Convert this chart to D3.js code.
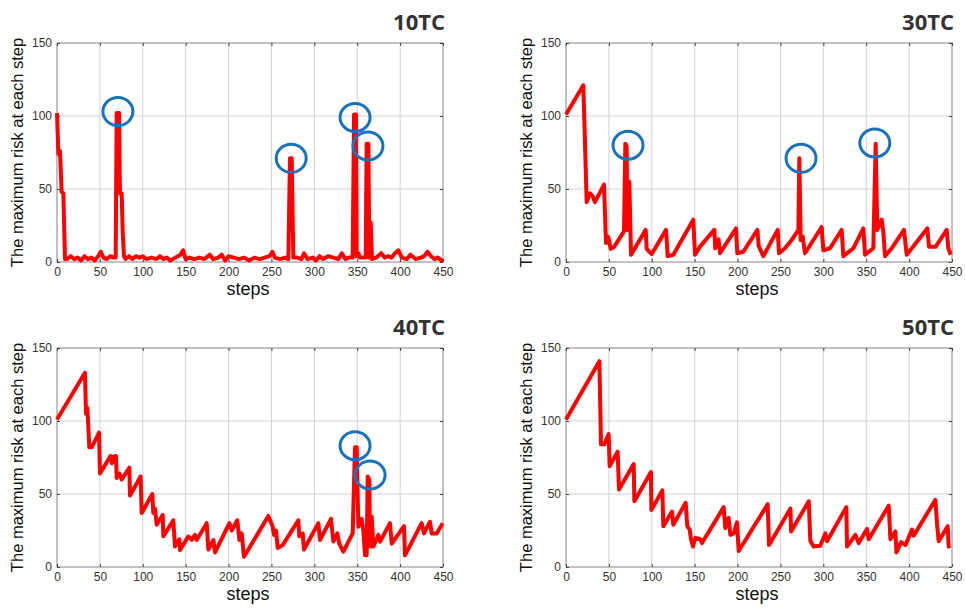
<!DOCTYPE html>
<html>
<head>
<meta charset="utf-8">
<script src="https://cdnjs.cloudflare.com/ajax/libs/d3/7.8.5/d3.min.js"></script>
<style>
  body { margin: 0; background: #fff; }
  .tick text { font-family: "Liberation Sans", Arial, sans-serif; font-size: 12px; fill: #333; }
  .tick line { stroke: #444; }
</style>
</head>
<body>
<div class="canvas"></div>
<script>
// tick labels
var xTicks = [0, 50, 100, 150, 200, 250, 300, 350, 400, 450];
var yTicks = [0, 50, 100, 150];
var titles = ["10TC", "30TC", "40TC", "50TC"];

// [step, max risk] vertices
var tc10 = [[0,102],[1.6,74],[3.5,76],[5.4,48],[7.4,47],[9.3,2],[12,2],[16,4],[20,2],[24,3],[28,1],[32,4],[36,2],[40,3],[44,1],
  [48,4],[51,7],[54,3],[58,2],[62,4],[66,3],[68.4,3],[69.6,102],[72.3,102],[73.4,47],[75.4,47],[76.6,20],[78.1,4],
  [80,2],[84,4],[88,2],[92,4],[96,3],[100,4],[104,2],[110,3],[116,2],[120,4],[124,2],[128,3],[132,1],[138,3],[144,5],
  [147,8],[150,2],[155,3],[160,2],[166,3],[172,2],[178,5],[182,2],[188,3],[192,5],[196,1],[200,4],[206,3],[212,2],
  [218,3],[224,1],[230,3],[236,2],[242,3],[248,4],[251,7],[254,3],[260,2],[266,3],[269.7,2],[271.6,71],[273.6,71],
  [275.5,3],[280,3],[285,2],[288,6],[292,2],[298,3],[302,1],[306,4],[310,2],[316,4],[322,3],[328,2],[332,6],[336,2],
  [340,3],[344.7,3],[346.3,101],[348.6,101],[349.4,4],[351.3,6],[353.2,3],[359.9,3],[361,81],[363,81],[364.1,3],
  [365.7,27],[367.2,2],[372,3],[378,6],[382,3],[386,4],[390,3],[394,6],[398,8],[402,3],[408,2],[412,5],[418,2],
  [424,3],[428,4],[432,7],[436,4],[440,2],[444,3],[448,1],[450,2]];

var tc30 = [[0,101],[20.2,121],[24.1,41],[28,47],[31.1,45],[33.8,41],[44.3,53],[46.6,13],[49.3,17],[52.1,9],[56.3,10.5],
  [67.6,21],[69.2,81],[70.7,79],[71.5,22],[73.8,55],[75.8,5],[92.9,22],[94,9],[99.9,5.5],[116.6,22],[118.5,4],
  [125.1,5],[148.4,29],[150.4,5],[156.2,10.5],[172.9,22],[174,9.4],[177.9,15.5],[179.5,6],[198.2,23],[199.7,6],
  [206.7,7],[223.1,22],[224.6,11],[230,4],[246.8,22],[248.3,6],[255.3,9.4],[263.1,15],[270.9,22],[272,71],
  [273.6,15],[275.9,17.4],[278.6,6],[298,24],[300,8],[307.8,9.4],[321.4,22],[323.3,4],[335,9.4],[346.6,23],
  [348.6,5],[358.3,9.4],[361,81],[362.9,22],[368,29],[369.9,21],[371.9,4],[379.7,9.4],[394,22],[397.2,5],
  [421.2,23],[423.2,10.5],[431,10.5],[443.8,22],[445.7,9.4],[448.5,5]];

var tc40 = [[0,101],[32.6,133],[33.8,105],[35.4,109],[37.7,82],[40.4,82],[49,92],[50.1,64],[62.3,76],[64.1,71],
  [65.7,75.6],[68.8,76],[69.6,61],[72.7,64],[75.4,60],[84.3,68],[85.1,49],[97.5,62],[98.7,37],[111.1,50],[112.3,37],
  [114.2,40],[116.2,29],[123.2,35.6],[124,21],[135.6,32],[137.6,14],[142.6,19],[143.4,11.6],[153.1,21],[157,18.5],
  [160.9,22],[162.8,18.5],[174.5,30],[176.4,12],[182.3,18.5],[184.2,10],[201,30],[203.6,25],[210.2,32],[212.6,18.5],
  [215.3,23],[218,7],[246.4,35],[249.1,31],[251.4,27.6],[253,22],[255.3,25],[257.3,13],[263.1,15],[281.3,32],
  [282.5,21],[286.4,23],[287.9,12],[304.7,30],[306.6,18.5],[319.4,33],[322.2,17.4],[326.8,23],[329.1,16],[333.8,10.5],
  [344.7,23],[347.4,82],[349.4,82],[351.3,27.6],[355.2,33],[357.1,25],[359.1,8],[361,8],[362.2,62],[364.1,60],
  [364.9,14],[366.9,34.5],[368.8,14],[374.6,22],[376.6,17.4],[388.2,30],[390.2,16],[404.5,28],[405.7,8],[425.1,30],
  [427.8,23],[434.8,31],[436.8,23],[442.6,23],[449.6,30]];

var tc50 = [[0,101],[38.9,141],[40.8,84],[44.7,84],[49.7,91],[50.9,69],[60.2,79],[61.8,53],[78.9,70.5],[79.7,45],
  [99.1,65],[99.5,39],[112.3,52.5],[113.5,28],[123.6,38],[125.1,29],[139.5,44],[141.4,28],[144.2,25.6],[145.7,19],
  [148,14],[150.8,20],[156.6,19],[158.5,16.4],[183.8,41],[185.7,26.7],[189.6,33.6],[191.6,22],[195.5,23],[199.4,30.6],
  [201.3,11],[235.1,43],[236.7,15],[261.6,40],[262.4,24.4],[283,45],[284.8,18],[288.7,14],[296.5,14.6],[302.3,23],
  [304.3,17.6],[326.8,41],[327.6,14],[337.3,22],[341.2,16.4],[350.9,26],[352.9,19],[376.2,42],[378.2,19],[384,24.4],
  [385.2,10],[390.6,17],[395.7,15],[403.4,25.6],[405.4,21.5],[430.6,46],[432.5,30],[434.5,17.6],[445,28],[446.1,14],
  [448.1,14.6]];

// highlighted peaks (blue circles), [step, risk]
var tc10Marks = [[71, 103], [273, 71], [347.5, 99], [362.5, 79.5]];
var tc30Marks = [[72.3, 80], [274, 71], [360, 81.5]];
var tc40Marks = [[347.5, 83], [365, 63]];
var tc50Marks = [];

var W = 965, H = 608;
var pw = 386, ph = 219;
var panels = [
  { title: titles[0], data: tc10, marks: tc10Marks, left: 57, top: 43 },
  { title: titles[1], data: tc30, marks: tc30Marks, left: 566, top: 43 },
  { title: titles[2], data: tc40, marks: tc40Marks, left: 57, top: 348 },
  { title: titles[3], data: tc50, marks: tc50Marks, left: 566, top: 348 }
];

var svg = d3.select(".canvas").append("svg").attr("width", W).attr("height", H);

var scaleX = d3.scaleLinear().domain([0, 450]).range([0, pw]);
var scaleY = d3.scaleLinear().domain([0, 150]).range([ph, 0]);

panels.forEach(function(p) {
  var g = svg.append("g").attr("transform", "translate(" + p.left + "," + p.top + ")");

  // grid
  g.append("g").selectAll("line").data(xTicks).enter().append("line")
    .attr("x1", function(d) { return scaleX(d); }).attr("x2", function(d) { return scaleX(d); })
    .attr("y1", 0).attr("y2", ph).attr("stroke", "#d2d2d2");
  g.append("g").selectAll("line").data(yTicks).enter().append("line")
    .attr("y1", function(d) { return scaleY(d); }).attr("y2", function(d) { return scaleY(d); })
    .attr("x1", 0).attr("x2", pw).attr("stroke", "#d2d2d2");

  g.append("rect").attr("width", pw).attr("height", ph)
    .attr("fill", "none").attr("stroke", "#9a9a9a");

  g.append("g").attr("transform", "translate(0," + ph + ")")
    .call(d3.axisBottom(scaleX).tickValues(xTicks).tickSize(-3).tickPadding(5.5));
  g.append("g")
    .call(d3.axisLeft(scaleY).tickValues(yTicks).tickSize(-3).tickPadding(5));
  g.append("g").call(d3.axisTop(scaleX).tickValues(xTicks).tickSize(-3).tickFormat(""));
  g.append("g").attr("transform", "translate(" + pw + ",0)")
    .call(d3.axisRight(scaleY).tickValues(yTicks).tickSize(-3).tickFormat(""));
  g.selectAll(".domain").remove();

  var line = d3.line()
    .x(function(d) { return scaleX(d[0]); })
    .y(function(d) { return scaleY(d[1]); });

  g.append("path").datum(p.data)
    .attr("d", line)
    .attr("fill", "none")
    .attr("stroke", "#ff0000")
    .attr("stroke-width", 4)
    .attr("stroke-linejoin", "round");

  g.selectAll("ellipse.mark").data(p.marks).enter().append("ellipse")
    .attr("class", "mark")
    .attr("cx", function(d) { return scaleX(d[0]); })
    .attr("cy", function(d) { return scaleY(d[1]); })
    .attr("rx", 15).attr("ry", 14)
    .attr("fill", "none")
    .attr("stroke", "#1a72bb")
    .attr("stroke-width", 3);

  // labels
  g.append("text")
    .attr("transform", "translate(-34," + (ph / 2) + ") rotate(-90)")
    .attr("text-anchor", "middle")
    .style("font-family", "Liberation Sans, Arial, sans-serif")
    .style("font-size", "16.5px")
    .style("fill", "#111")
    .text("The maximum risk at each step");

  g.append("text")
    .attr("x", pw / 2 - 2).attr("y", ph + 33)
    .attr("text-anchor", "middle")
    .style("font-family", "Liberation Sans, Arial, sans-serif")
    .style("font-size", "18px")
    .style("fill", "#111")
    .text("steps");

  g.append("text")
    .attr("x", pw + 2).attr("y", -13)
    .attr("text-anchor", "end")
    .style("font-family", "Open Sans, sans-serif")
    .style("font-weight", "bold")
    .style("font-size", "22px")
    .style("fill", "#333")
    .text(p.title);
});
</script>
</body>
</html>
